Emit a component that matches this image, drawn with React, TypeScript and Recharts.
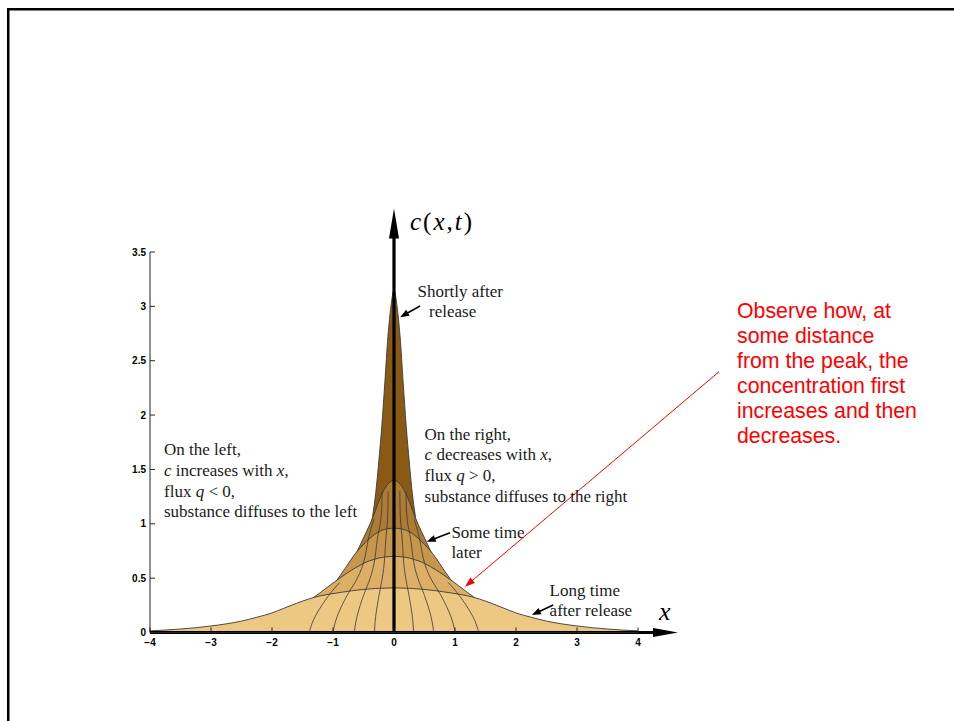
import React from 'react';
import { ComposedChart, Area, Line, XAxis, YAxis, ReferenceLine } from 'recharts';

// ---- data ----
const xValues = [-4, -3.5, -3, -2.5, -2.25, -2, -1.8, -1.6, -1.4, -1.2, -1, -0.9, -0.8, -0.7, -0.6, -0.5, -0.4, -0.35, -0.3, -0.25, -0.2, -0.15, -0.1, -0.05, 0, 0.05, 0.1, 0.15, 0.2, 0.25, 0.3, 0.35, 0.4, 0.5, 0.6, 0.7, 0.8, 0.9, 1, 1.2, 1.4, 1.6, 1.8, 2, 2.25, 2.5, 3, 3.5, 4];

const shortlyAfter = [0, 0, 0, 0, 0, 0, 0, 0.003, 0.008, 0.02, 0.06, 0.1, 0.17, 0.27, 0.41, 0.6, 0.88, 1.07, 1.28, 1.57, 1.9, 2.3, 2.72, 3.0, 3.15, 3.0, 2.72, 2.3, 1.9, 1.57, 1.28, 1.07, 0.88, 0.6, 0.41, 0.27, 0.17, 0.1, 0.06, 0.02, 0.008, 0.003, 0, 0, 0, 0, 0, 0, 0];
const timeTwo = [0, 0, 0, 0, 0, 0.005, 0.012, 0.032, 0.075, 0.16, 0.3, 0.39, 0.5, 0.625, 0.75, 0.87, 0.99, 1.055, 1.13, 1.205, 1.27, 1.325, 1.365, 1.39, 1.4, 1.39, 1.365, 1.325, 1.27, 1.205, 1.13, 1.055, 0.99, 0.87, 0.75, 0.625, 0.5, 0.39, 0.3, 0.16, 0.075, 0.032, 0.012, 0.005, 0, 0, 0, 0, 0];
const timeThree = [0, 0, 0, 0.006, 0.015, 0.03, 0.055, 0.1, 0.18, 0.29, 0.43, 0.51, 0.59, 0.675, 0.75, 0.81, 0.865, 0.888, 0.91, 0.925, 0.94, 0.948, 0.955, 0.958, 0.96, 0.958, 0.955, 0.948, 0.94, 0.925, 0.91, 0.888, 0.865, 0.81, 0.75, 0.675, 0.59, 0.51, 0.43, 0.29, 0.18, 0.1, 0.055, 0.03, 0.015, 0.006, 0, 0, 0];
const timeFour = [0, 0.001, 0.008, 0.03, 0.055, 0.095, 0.145, 0.21, 0.29, 0.37, 0.455, 0.495, 0.535, 0.572, 0.605, 0.635, 0.66, 0.668, 0.677, 0.685, 0.69, 0.695, 0.698, 0.699, 0.7, 0.699, 0.698, 0.695, 0.69, 0.685, 0.677, 0.668, 0.66, 0.635, 0.605, 0.572, 0.535, 0.495, 0.455, 0.37, 0.29, 0.21, 0.145, 0.095, 0.055, 0.03, 0.008, 0.001, 0];
const longTime = [0.015, 0.032, 0.06, 0.105, 0.14, 0.18, 0.224, 0.268, 0.308, 0.338, 0.358, 0.367, 0.375, 0.383, 0.39, 0.396, 0.401, 0.403, 0.405, 0.406, 0.407, 0.408, 0.409, 0.41, 0.41, 0.41, 0.409, 0.408, 0.407, 0.406, 0.405, 0.403, 0.401, 0.396, 0.39, 0.383, 0.375, 0.367, 0.358, 0.338, 0.308, 0.268, 0.224, 0.18, 0.14, 0.105, 0.06, 0.032, 0.015];

// mesh lines (constant x lines of the surface)
const meshLevels = [0, 0.15, 0.34, 0.46, 0.64, 0.86, 1.04, 1.3];
const meshR1x = [0.32, 0.3, 0.246, 0.205, 0.16, 0.134, 0.106, 0.096];
const meshR2x = [0.65, 0.605, 0.5, 0.416, 0.325, 0.273, 0.215, 0.195];
const meshR3x = [1.0, 0.93, 0.77, 0.64, 0.5, 0.42, 0.33];
const meshR4x = [1.39, 1.29, 1.07, 0.89];
const meshL1x = [-0.32, -0.3, -0.246, -0.205, -0.16, -0.134, -0.106, -0.096];
const meshL2x = [-0.65, -0.605, -0.5, -0.416, -0.325, -0.273, -0.215, -0.195];
const meshL3x = [-1.0, -0.93, -0.77, -0.64, -0.5, -0.42, -0.33];
const meshL4x = [-1.39, -1.29, -1.07, -0.89];

const xTicks = [-4, -3, -2, -1, 0, 1, 2, 3, 4];
const yTicks = [0, 0.5, 1, 1.5, 2, 2.5, 3, 3.5];

const data = xValues.map((x, i) => ({
  x,
  a: shortlyAfter[i],
  b: timeTwo[i],
  c: timeThree[i],
  d: timeFour[i],
  e: longTime[i],
}));

const meshSets = [meshR1x, meshR2x, meshR3x, meshR4x, meshL1x, meshL2x, meshL3x, meshL4x].map((xs) =>
  xs.map((x, i) => ({ x, y: meshLevels[i] }))
);

const fills = ['#8A5A15', '#AD7B33', '#C6964C', '#DCAE66', '#EDC883'];
const keys = ['a', 'b', 'c', 'd', 'e'];

const fmt = (v: number) => (v < 0 ? '\u2212' + Math.abs(v) : String(v));

const LeftTick = (p: any) => (
  <g>
    <line x1={p.x + 4} y1={p.y} x2={p.x + 9} y2={p.y} stroke="#222" strokeWidth={1} />
    <text x={p.x} y={p.y} dy={3.5} textAnchor="end" fontSize={10} fontWeight={700} fontFamily="'Liberation Sans', Arial, sans-serif" fill="#000">
      {fmt(p.payload.value)}
    </text>
  </g>
);
const BottomTick = (p: any) => (
  <g>
    <line x1={p.x} y1={p.y - 5} x2={p.x} y2={p.y - 10} stroke="#222" strokeWidth={1} />
    <text x={p.x} y={p.y} dy={8} textAnchor="middle" fontSize={10} fontWeight={700} fontFamily="'Liberation Sans', Arial, sans-serif" fill="#000">
      {fmt(p.payload.value)}
    </text>
  </g>
);
const TopTick = (p: any) => <line x1={p.x} y1={p.y} x2={p.x} y2={p.y + 5} stroke="#222" strokeWidth={1} />;
const RightTick = (p: any) => <line x1={p.x} y1={p.y} x2={p.x - 5} y2={p.y} stroke="#222" strokeWidth={1} />;

const makeArrow = (color: string, width: number, headLen: number, headHalf: number) => (props: any) => {
  const { x1, y1, x2, y2 } = props;
  const dx = x2 - x1;
  const dy = y2 - y1;
  const len = Math.hypot(dx, dy) || 1;
  const ux = dx / len;
  const uy = dy / len;
  const bx = x2 - ux * headLen;
  const by = y2 - uy * headLen;
  const px = -uy;
  const py = ux;
  return (
    <g>
      <line x1={x1} y1={y1} x2={bx + ux * 2} y2={by + uy * 2} stroke={color} strokeWidth={width} />
      <polygon
        points={`${x2},${y2} ${bx + px * headHalf},${by + py * headHalf} ${bx - px * headHalf},${by - py * headHalf}`}
        fill={color}
      />
    </g>
  );
};

const serif = "'Liberation Serif', 'Times New Roman', serif";
const textColor = '#1a1a1a';

export default function App() {
  return (
    <div style={{ position: 'absolute', left: 0, top: 0, width: 954, height: 721, background: '#fff', overflow: 'hidden' }}>
      <div style={{ position: 'absolute', left: 0, top: 0 }}>
        <ComposedChart width={954} height={721} data={data} margin={{ top: 252, right: 316, bottom: 68.5, left: 120 }}>
          <XAxis
            type="number"
            dataKey="x"
            domain={[-4, 4]}
            ticks={xTicks}
            interval={0}
            height={20}
            tickSize={0}
            tickMargin={5}
            tickLine={false}
            axisLine={{ stroke: '#222' }}
            tick={(p: any) => <BottomTick {...p} />}
            allowDataOverflow
          />
          <XAxis
            xAxisId="top"
            orientation="top"
            type="number"
            dataKey="x"
            domain={[-4, 4]}
            ticks={xTicks}
            interval={0}
            height={0}
            tickSize={0}
            tickMargin={0}
            tickLine={false}
            axisLine={{ stroke: '#222' }}
            tick={(p: any) => <TopTick {...p} />}
            allowDataOverflow
          />
          <YAxis
            type="number"
            domain={[0, 3.5]}
            ticks={yTicks}
            interval={0}
            width={30}
            tickSize={0}
            tickMargin={4}
            tickLine={false}
            axisLine={{ stroke: '#222' }}
            tick={(p: any) => <LeftTick {...p} />}
            allowDataOverflow
          />
          <YAxis
            yAxisId="right"
            orientation="right"
            type="number"
            domain={[0, 3.5]}
            ticks={yTicks}
            interval={0}
            width={0}
            tickSize={0}
            tickMargin={0}
            tickLine={false}
            axisLine={{ stroke: '#222' }}
            tick={(p: any) => <RightTick {...p} />}
            allowDataOverflow
          />
          {keys.map((k, i) => (
            <Area
              key={k}
              type="monotone"
              dataKey={k}
              fill={fills[i]}
              fillOpacity={1}
              stroke="#3a3a3a"
              strokeWidth={0.9}
              dot={false}
              activeDot={false}
              isAnimationActive={false}
            />
          ))}
          {meshSets.map((m, i) => (
            <Line
              key={'mesh' + i}
              data={m}
              dataKey="y"
              type="natural"
              stroke="#3a3a3a"
              strokeWidth={0.8}
              dot={false}
              activeDot={false}
              isAnimationActive={false}
            />
          ))}
          <ReferenceLine segment={[{ x: -4, y: 0 }, { x: 4.656, y: 0 }]} ifOverflow="visible" shape={makeArrow('#000', 2.8, 25, 4.5)} />
          <ReferenceLine segment={[{ x: 0, y: 0 }, { x: 0, y: 3.9 }]} ifOverflow="visible" shape={makeArrow('#000', 3.2, 30, 5)} />
          <ReferenceLine segment={[{ x: 0.426, y: 3.003 }, { x: 0.1, y: 2.9 }]} ifOverflow="visible" shape={makeArrow('#000', 1.6, 9, 3.5)} />
          <ReferenceLine segment={[{ x: 0.918, y: 0.918 }, { x: 0.536, y: 0.835 }]} ifOverflow="visible" shape={makeArrow('#000', 1.6, 9, 3.5)} />
          <ReferenceLine segment={[{ x: 2.61, y: 0.253 }, { x: 2.26, y: 0.161 }]} ifOverflow="visible" shape={makeArrow('#000', 1.6, 9, 3.5)} />
          <ReferenceLine segment={[{ x: 5.328, y: 2.399 }, { x: 1.164, y: 0.421 }]} ifOverflow="visible" shape={makeArrow('#FF0000', 1, 10, 3.5)} />
        </ComposedChart>
      </div>
      <svg width={954} height={721} style={{ position: 'absolute', left: 0, top: 0, pointerEvents: 'none' }}>
        <rect x={7} y={8} width={947} height={2.5} fill="#000" />
        <rect x={7} y={8} width={2.5} height={713} fill="#000" />
        <text x={410} y={230} fontFamily={serif} fontSize={25} fill="#000" letterSpacing={2}>
          <tspan fontStyle="italic">c</tspan>(<tspan fontStyle="italic">x</tspan>,<tspan fontStyle="italic">t</tspan>)
        </text>
        <text x={659} y={620} fontFamily={serif} fontSize={26} fontStyle="italic" fill="#000">x</text>
        <g fontFamily={serif} fontSize={17} fill={textColor}>
          <text x={417.5} y={297}>Shortly after</text>
          <text x={429} y={317}>release</text>
          <text x={164} y={455}>On the left,</text>
          <text x={164} y={476}><tspan fontStyle="italic">c</tspan> increases with <tspan fontStyle="italic">x</tspan>,</text>
          <text x={164} y={496.7}>flux <tspan fontStyle="italic">q</tspan> &lt; 0,</text>
          <text x={164} y={517.3}>substance diffuses to the left</text>
          <text x={424.6} y={439.5}>On the right,</text>
          <text x={424.6} y={460}><tspan fontStyle="italic">c</tspan> decreases with <tspan fontStyle="italic">x</tspan>,</text>
          <text x={424.6} y={481}>flux <tspan fontStyle="italic">q</tspan> &gt; 0,</text>
          <text x={424.6} y={501.7}>substance diffuses to the right</text>
          <text x={451.4} y={537.5}>Some time</text>
          <text x={451.4} y={558}>later</text>
          <text x={549.6} y={595.5}>Long time</text>
          <text x={549.6} y={615.5}>after release</text>
        </g>
        <g fontFamily="'Liberation Sans', Arial, sans-serif" fontSize={21.3} fill="#FF0000">
          <text x={737} y={318}>Observe how, at</text>
          <text x={737} y={343}>some distance</text>
          <text x={737} y={368}>from the peak, the</text>
          <text x={737} y={393}>concentration first</text>
          <text x={737} y={418}>increases and then</text>
          <text x={737} y={443}>decreases.</text>
        </g>
      </svg>
    </div>
  );
}
